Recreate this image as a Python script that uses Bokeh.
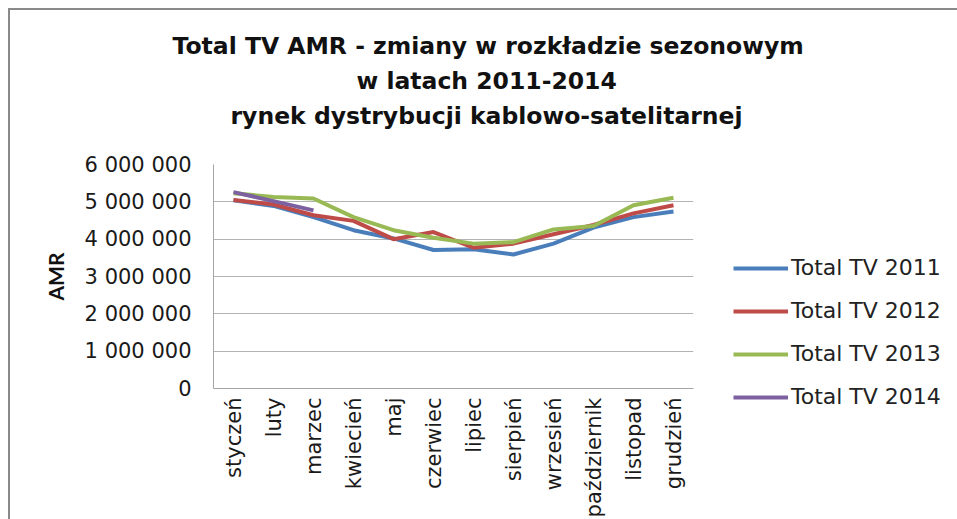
from bokeh.plotting import figure
from bokeh.models import (ColumnDataSource, FactorRange, Range1d, FixedTicker, Legend,
                          LegendItem, Title)
from bokeh.embed import file_html
from bokeh.resources import INLINE
import math

months = ["styczeń", "luty", "marzec", "kwiecień", "maj", "czerwiec", "lipiec",
          "sierpień", "wrzesień", "październik", "listopad", "grudzień"]
tv2011 = [5040000, 4890000, 4590000, 4240000, 4020000, 3710000, 3730000,
          3590000, 3880000, 4310000, 4590000, 4740000]
tv2012 = [5050000, 4930000, 4640000, 4490000, 4000000, 4190000, 3770000,
          3880000, 4130000, 4380000, 4690000, 4910000]
tv2013 = [5230000, 5130000, 5090000, 4590000, 4240000, 4040000, 3880000,
          3920000, 4260000, 4350000, 4910000, 5110000]
months2014 = ["styczeń", "luty", "marzec"]
tv2014 = [5260000, 5020000, 4770000]
series_names = ["Total TV 2011", "Total TV 2012", "Total TV 2013", "Total TV 2014"]
y_ticks = [0, 1000000, 2000000, 3000000, 4000000, 5000000, 6000000]
y_tick_labels = ["0", "1 000 000", "2 000 000", "3 000 000", "4 000 000",
                 "5 000 000", "6 000 000"]
title_lines = ["Total TV AMR - zmiany w rozkładzie sezonowym",
               "w latach 2011-2014",
               "rynek dystrybucji kablowo-satelitarnej"]

colors = ["#4A7EBB", "#BE4B48", "#98B954", "#7D60A0"]

p = figure(frame_width=480, frame_height=224, output_backend="svg", toolbar_location=None,
           x_range=FactorRange(*months, range_padding=0),
           y_range=Range1d(0, 6000000),
           min_border_left=203, min_border_top=154, min_border_right=264,
           min_border_bottom=131)
p.styles = {"margin-left": "8px", "margin-top": "8px",
            "border-left": "2px solid #8a8a8a", "border-top": "2px solid #8a8a8a"}
p.outline_line_color = None
p.background_fill_color = "white"
p.border_fill_color = "white"

src = ColumnDataSource(dict(m=months, a=tv2011, b=tv2012, c=tv2013))
src4 = ColumnDataSource(dict(m=months2014, d=tv2014))
r1 = p.line("m", "a", source=src, color=colors[0], line_width=4)
r2 = p.line("m", "b", source=src, color=colors[1], line_width=4)
r3 = p.line("m", "c", source=src, color=colors[2], line_width=4)
r4 = p.line("m", "d", source=src4, color=colors[3], line_width=4)

# spacer between frame and title block, then title lines (first added = closest to frame)
p.add_layout(Title(text=" ", text_font_size="1px", standoff=29), "above")
title_offsets = [-41, 143, 17]  # left offsets (px) relative to frame left
for txt, off in zip(reversed(title_lines), reversed(title_offsets)):
    t = Title(text=txt, align="left", text_font="DejaVu Sans", text_font_size="23.5px",
              text_font_style="bold", text_color="#111111", standoff=5, offset=off)
    p.add_layout(t, "above")

# axes
p.yaxis.ticker = FixedTicker(ticks=y_ticks)
p.yaxis.major_label_overrides = {t: l for t, l in zip(y_ticks, y_tick_labels)}
p.yaxis.major_label_text_font = "DejaVu Sans"
p.yaxis.major_label_text_font_size = "21px"
p.yaxis.major_label_text_color = "#1a1a1a"
p.yaxis.major_tick_out = 0
p.yaxis.major_tick_in = 0
p.yaxis.minor_tick_out = 0
p.yaxis.minor_tick_in = 0
p.yaxis.major_label_standoff = 22
p.yaxis.axis_line_color = "#a6a6a6"
p.yaxis.axis_label = "AMR"
p.yaxis.axis_label_text_font = "Lato"
p.yaxis.axis_label_text_font_size = "21px"
p.yaxis.axis_label_text_font_style = "bold"
p.yaxis.axis_label_text_color = "#111111"
p.yaxis.axis_label_standoff = 14

p.xaxis.major_label_orientation = math.pi / 2
p.xaxis.major_label_text_font = "DejaVu Sans"
p.xaxis.major_label_text_font_size = "21px"
p.xaxis.major_label_text_color = "#1a1a1a"
p.xaxis.major_tick_out = 0
p.xaxis.major_tick_in = 0
p.xaxis.major_label_standoff = 9
p.xaxis.axis_line_color = "#a6a6a6"

p.xgrid.grid_line_color = None
p.ygrid.grid_line_color = "#b3b3b3"
p.ygrid.grid_line_width = 1

legend = Legend(items=[LegendItem(label=n, renderers=[r]) for n, r in
                       zip(series_names, [r1, r2, r3, r4])],
                location=(40, -21), orientation="vertical",
                glyph_width=55, glyph_height=22, label_height=22, spacing=18,
                label_standoff=3, padding=0, margin=0,
                label_text_font="DejaVu Sans", label_text_font_size="22px",
                label_text_color="#222222",
                border_line_color=None, background_fill_alpha=0)
p.add_layout(legend, "right")

open("out.html", "w").write(file_html(p, INLINE))
